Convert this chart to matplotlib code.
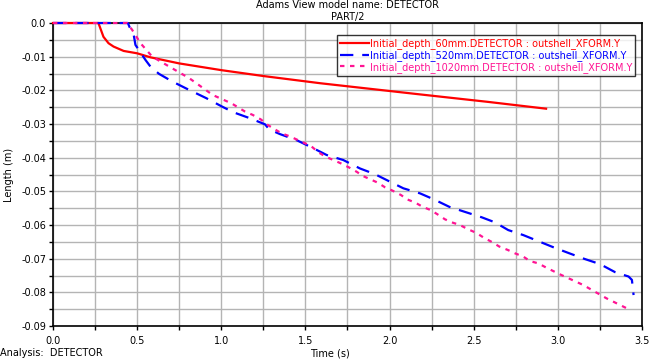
import numpy as np
import matplotlib
matplotlib.use("Agg")
import matplotlib.pyplot as plt
from matplotlib.ticker import MultipleLocator, FormatStrFormatter

plt.rcParams['font.family'] = ['DejaVu Sans']
plt.rcParams['axes.unicode_minus'] = False

# valores
t_60 = [0.0, 0.27, 0.30, 0.33, 0.36, 0.42, 0.50, 0.58, 0.75, 1.00, 1.25, 1.59, 2.18, 2.58, 2.93]
y_60 = [0.0, 0.0, -0.0041, -0.0060, -0.0070, -0.0083, -0.0090, -0.0102, -0.0120, -0.0140,
        -0.01575, -0.0179, -0.0212, -0.0234, -0.02545]

t_520 = [0.0, 0.445, 0.46, 0.48, 0.49, 0.51, 0.55, 0.58, 0.63, 0.71, 0.81, 0.91, 1.00,
         1.071, 1.171, 1.260, 1.285, 1.349, 1.448, 1.547, 1.626, 1.725, 1.824, 1.913, 1.993,
         2.082, 2.181, 2.264, 2.355, 2.454, 2.547, 2.626, 2.705, 2.795, 2.884, 2.973, 3.068,
         3.16, 3.25, 3.34, 3.42, 3.44, 3.45]
y_520 = [0.0, 0.0, -0.0018, -0.0036, -0.0065, -0.0080, -0.0110, -0.0130, -0.0151, -0.0174,
         -0.0199, -0.0223, -0.0247, -0.0265, -0.0283, -0.0301, -0.0316, -0.0330, -0.0348,
         -0.0372, -0.0392, -0.0407, -0.0432, -0.0449, -0.0469, -0.0491, -0.0506, -0.0524,
         -0.0546, -0.0562, -0.0577, -0.0592, -0.0615, -0.0630, -0.0648, -0.0666, -0.0684,
         -0.0701, -0.0716, -0.0740, -0.0753, -0.0763, -0.0808]

t_1020 = [0.0, 0.44, 0.47, 0.52, 0.59, 0.71, 0.81, 0.95, 1.062, 1.141, 1.187, 1.234, 1.270,
          1.319, 1.359, 1.404, 1.448, 1.497, 1.537, 1.577, 1.620, 1.666, 1.711, 1.759, 1.805,
          1.840, 1.884, 1.929, 1.973, 2.018, 2.068, 2.105, 2.151, 2.197, 2.246, 2.290, 2.329,
          2.369, 2.418, 2.468, 2.514, 2.561, 2.610, 2.652, 2.702, 2.745, 2.795, 2.834, 2.884,
          2.929, 3.01, 3.15, 3.29, 3.42]
y_1020 = [0.0, 0.0, -0.0020, -0.0060, -0.0100, -0.0135, -0.0164, -0.0214, -0.0239, -0.0263,
          -0.0273, -0.0286, -0.0301, -0.0316, -0.0328, -0.0336, -0.0346, -0.0357, -0.0367,
          -0.0384, -0.0397, -0.0407, -0.0417, -0.0429, -0.0442, -0.0454, -0.0464, -0.0474,
          -0.0488, -0.0498, -0.0511, -0.0524, -0.0533, -0.0546, -0.0556, -0.0570, -0.0583,
          -0.0592, -0.0600, -0.0613, -0.0623, -0.0638, -0.0651, -0.0664, -0.0674, -0.0684,
          -0.0694, -0.0707, -0.0714, -0.0726, -0.0746, -0.0778, -0.0818, -0.0850]

nomes = ['Initial_depth_60mm.DETECTOR : outshell_XFORM.Y',
         'Initial_depth_520mm.DETECTOR : outshell_XFORM.Y',
         'Initial_depth_1020mm.DETECTOR : outshell_XFORM.Y']
cores = ['#ff0000', '#0000ff', '#ff1493']

fig = plt.figure(figsize=(6.5, 3.6), dpi=100)
ax = fig.add_axes([0.0815, 0.0944, 0.9062, 0.8417])

ax.plot(t_60, y_60, color=cores[0], lw=1.6, label=nomes[0], zorder=3, clip_on=False)
ax.plot(t_520, y_520, color=cores[1], lw=1.6, dashes=(6, 4), label=nomes[1], zorder=3, clip_on=False)
ax.plot(t_1020, y_1020, color=cores[2], lw=1.6, dashes=(2, 2.5), label=nomes[2], zorder=3, clip_on=False)

ax.set_xlim(0, 3.5)
ax.set_ylim(-0.09, 0.0)
ax.xaxis.set_major_locator(MultipleLocator(0.5))
ax.xaxis.set_minor_locator(MultipleLocator(0.25))
ax.yaxis.set_major_locator(MultipleLocator(0.01))
ax.yaxis.set_minor_locator(MultipleLocator(0.005))
ax.xaxis.set_major_formatter(FormatStrFormatter('%.1f'))
ax.yaxis.set_major_formatter(plt.FuncFormatter(lambda v, p: '0.0' if abs(v) < 1e-9 else '%.2f' % v))
ax.grid(True, which='both', color='#b4b4b4', lw=1.0)
ax.set_axisbelow(True)
ax.tick_params(axis='both', which='both', labelsize=7, color='black', width=1,
               direction='out', length=3)
ax.tick_params(axis='x', which='major', pad=4)
ax.tick_params(axis='y', which='major', pad=2)
for s in ax.spines.values():
    s.set_linewidth(1.2)

ax.set_ylabel('Length (m)', fontsize=7, labelpad=5)

fig.text(0.5346, 0.999, 'Adams View model name: DETECTOR', ha='center', va='top', fontsize=7)
fig.text(0.5346, 0.966, 'PART/2', ha='center', va='top', fontsize=7)
fig.text(0.0, 0.005, 'Analysis:  DETECTOR', ha='left', va='bottom', fontsize=7)
fig.text(0.508, 0.005, 'Time (s)', ha='center', va='bottom', fontsize=7)

leg = ax.legend(loc='upper right', bbox_to_anchor=(0.988, 0.96), fontsize=7, frameon=True,
                fancybox=False, handlelength=3.0, handletextpad=0.05, borderpad=0.3,
                labelspacing=0.1, borderaxespad=0)
leg.set_zorder(5)
leg.get_frame().set_edgecolor('black')
leg.get_frame().set_linewidth(1.0)
for txt, c in zip(leg.get_texts(), cores):
    txt.set_color(c)

fig.savefig('out.png', dpi=100)
